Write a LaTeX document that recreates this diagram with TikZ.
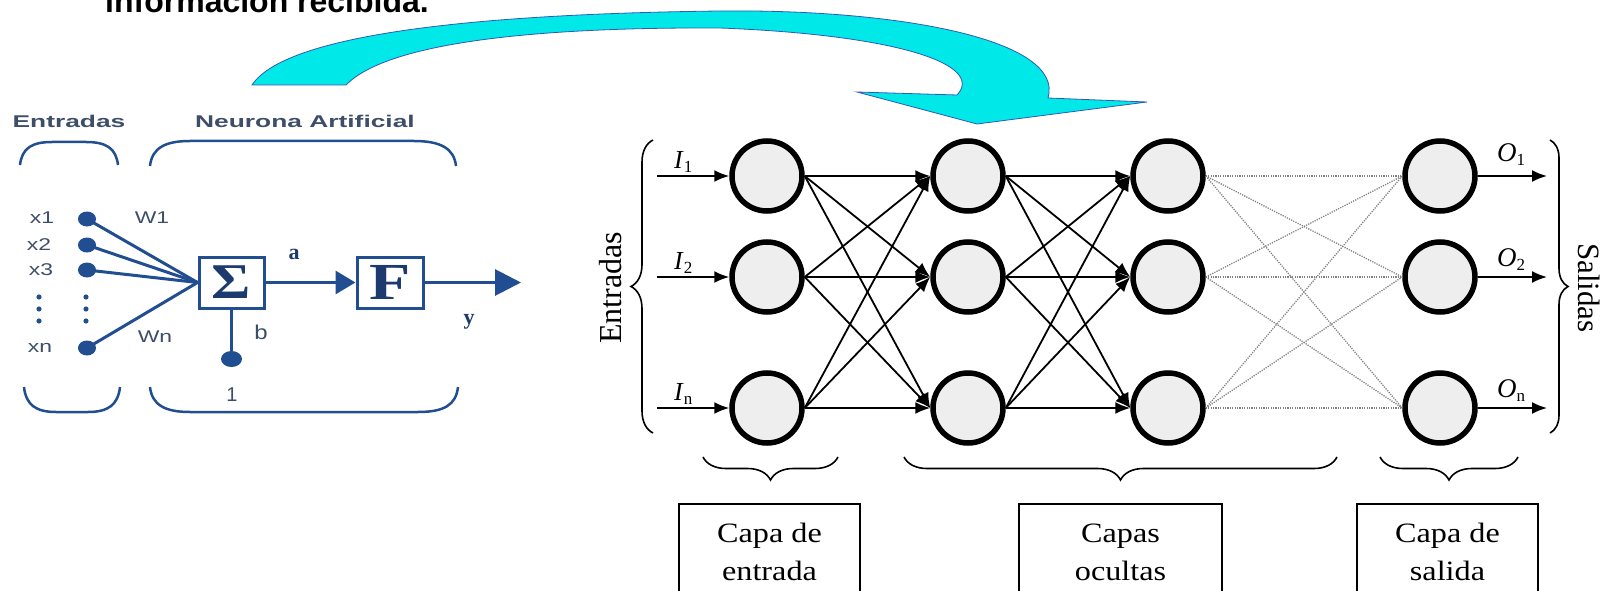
\documentclass[tikz,border=0pt]{standalone}
\usepackage{fontspec}
\usepackage{graphicx}
\setmainfont{Liberation Serif}
\newfontfamily\arialf{Liberation Sans}
\usetikzlibrary{arrows.meta,decorations.pathreplacing,shapes.geometric}
\definecolor{nblue}{RGB}{32,78,145}
\definecolor{ntext}{RGB}{62,78,105}
\definecolor{ndark}{RGB}{28,58,110}
\definecolor{cyanarr}{RGB}{0,232,232}
\definecolor{arrline}{RGB}{50,90,180}
\definecolor{nfill}{RGB}{238,238,238}
\newcommand\fsz[1]{\fontsize{#1pt}{#1pt}\selectfont}
\begin{document}
\begin{tikzpicture}[x=1pt,y=-1pt,
  neuron/.style={circle, draw=black, line width=5.5pt, fill=nfill, minimum size=70pt, inner sep=0pt},
  conn/.style={line width=1.8pt, -{Latex[length=15pt,width=12pt]}},
  dotc/.style={draw=gray, line width=1.3pt, dash pattern=on 1.2pt off 1.2pt},
  brc/.style={decorate, decoration={brace, amplitude=#1}, line width=1.6pt},
  bline/.style={draw=nblue, line width=3pt},
  bdot/.style={ellipse, fill=nblue, minimum width=18pt, minimum height=15pt, inner sep=0pt},
  lbox/.style={draw=nblue, line width=3pt, inner sep=0pt, text=ndark},
  xlab/.style={font=\arialf\fsz{17}, text=ntext, inner sep=0pt},
  head/.style={font=\arialf\bfseries\fsz{17}, text=ntext, inner sep=0pt},
  layerbox/.style={draw=black, line width=1.5pt, anchor=north, minimum height=130pt, inner sep=0pt},
  boxtxt/.style={font=\fsz{28}, anchor=base, inner sep=0pt},
  lab/.style={anchor=base west, inner sep=0pt}
]
\useasboundingbox (0,0) rectangle (1601,591);
\clip (0,0) rectangle (1601,591);

% title (cut at top)
\node[anchor=base west, inner sep=0pt, font=\arialf\bfseries\fsz{32}] (title) at (105,13) {información recibida.};

% cyan curved arrow
\draw[fill=cyanarr, draw=arrline, line width=0.8pt]
  (252,85) .. controls (285,35) and (470,14) .. (720,11)
  .. controls (900,9) and (1065,40) .. (1048,98)
  -- (1147,102) -- (977,124) -- (857,92) -- (957,95)
  .. controls (985,65) and (900,35) .. (720,28)
  .. controls (520,27) and (385,45) .. (346,85) -- cycle;

% ---------- artificial neuron ----------
\node[head] (hent) at (69,121) {\scalebox{1.55}[1]{Entradas}};
\node[head] (hneu) at (305,121) {\scalebox{1.55}[1]{Neurona Artificial}};
\draw[bline, line width=2.5pt] (20,165) .. controls (22,148) and (32,142) .. (52,142) -- (86,142) .. controls (106,142) and (116,148) .. (118,165);
\draw[bline, line width=2.5pt] (150,166) .. controls (152,148) and (165,141) .. (190,141) -- (414,141) .. controls (440,141) and (454,148) .. (456,166);
\draw[bline, line width=2.5pt] (24,387) .. controls (26,405) and (36,412) .. (56,412) -- (88,412) .. controls (108,412) and (118,405) .. (120,387);
\draw[bline, line width=2.5pt] (150,387) .. controls (152,405) and (165,412) .. (190,412) -- (418,412) .. controls (444,412) and (456,405) .. (458,387);

\node[xlab] (lx1) at (42,218) {\scalebox{1.35}[1]{x1}};
\node[xlab] (lx2) at (39,245) {\scalebox{1.35}[1]{x2}};
\node[xlab] (lx3) at (41,270) {\scalebox{1.35}[1]{x3}};
\node[xlab] (lxn) at (40,348) {\scalebox{1.35}[1]{xn}};
\foreach \yy in {297,309,321} {
  \fill[nblue] (39,\yy) circle[radius=2.6pt];
  \fill[nblue] (86,\yy) circle[radius=2.6pt];
}
\node[bdot] (dx1) at (87,219) {};
\node[bdot] (dx2) at (87,245) {};
\node[bdot] (dx3) at (87,270) {};
\node[bdot] (dxn) at (87,348) {};

\node[lbox, minimum width=65pt, minimum height=51pt] (sig) at (231.5,282.5) {\scalebox{1.2}[1]{\fsz{50}\bfseries Σ}};
\node[lbox, minimum width=66pt, minimum height=51pt] (fbox) at (390,282.5) {\raisebox{-2pt}{\scalebox{1.3}[1]{\fsz{52}\bfseries F}}};
\foreach \d in {dx1,dx2,dx3,dxn} \draw[bline] (\d.center) -- (sig.west);
\node[xlab] (lw1) at (152,218) {\scalebox{1.35}[1]{W1}};
\node[xlab] (lwn) at (155,337) {\scalebox{1.35}[1]{Wn}};
\draw[bline, -{Triangle[length=20pt,width=23pt]}] (sig.east) -- (fbox.west);
\coordinate (yout) at (521,282.5);
\draw[bline, -{Triangle[length=26pt,width=26pt]}] (fbox.east) -- (yout);
\node[bdot, minimum width=21pt, minimum height=16pt] (bdt) at (231.5,359) {};
\draw[bline] (sig.south) -- (bdt.center);
\node[inner sep=0pt, text=ndark, font=\bfseries\fsz{22}] (la) at (294,254) {a};
\node[inner sep=0pt, text=ndark, font=\bfseries\fsz{22}] (ly) at (469,322) {y};
\node[xlab, font=\arialf\fsz{20}] (lb) at (261,332) {\scalebox{1.2}[1]{b}};
\node[xlab, font=\arialf\fsz{20}] (l1) at (232,395) {1};

% ---------- network ----------
\foreach \c/\x in {1/767,2/968,3/1168,4/1440}
  \foreach \r/\y in {1/176,2/277,3/408}
    \node[neuron] (n\c\r) at (\x,\y) {};

\foreach \i in {1,2,3} \foreach \j in {1,2,3} {
  \draw[conn] (n1\i.east) -- (n2\j.west);
  \draw[conn] (n2\i.east) -- (n3\j.west);
  \draw[dotc] (n3\i.east) -- (n4\j.west);
}

\coordinate (in1) at (657,176);
\coordinate (in2) at (657,277);
\coordinate (in3) at (657,408);
\draw[conn] (in1) -- (n11.west);
\draw[conn] (in2) -- (n12.west);
\draw[conn] (in3) -- (n13.west);
\coordinate (out1) at (1547,176);
\coordinate (out2) at (1547,277);
\coordinate (out3) at (1547,408);
\draw[conn] (n41.east) -- (out1);
\draw[conn] (n42.east) -- (out2);
\draw[conn] (n43.east) -- (out3);

\node[lab] (li1) at (674,168) {\fsz{26}\itshape I\/\raisebox{-4pt}{\upshape\fsz{17}1}};
\node[lab] (li2) at (674,269) {\fsz{26}\itshape I\/\raisebox{-4pt}{\upshape\fsz{17}2}};
\node[lab] (li3) at (674,400) {\fsz{26}\itshape I\/\raisebox{-4pt}{\upshape\fsz{17}n}};
\node[lab] (lo1) at (1497,161) {\fsz{27}\itshape O\/\raisebox{-4pt}{\upshape\fsz{17}1}};
\node[lab] (lo2) at (1497,266) {\fsz{27}\itshape O\/\raisebox{-4pt}{\upshape\fsz{17}2}};
\node[lab] (lo3) at (1497,397) {\fsz{27}\itshape O\/\raisebox{-4pt}{\upshape\fsz{17}n}};

\draw[brc=22pt] (653,433) -- (653,140);
\draw[brc=18pt] (1550,140) -- (1550,433);
\node[rotate=90, font=\fsz{32}, inner sep=0pt] (tent) at (611,288) {Entradas};
\node[rotate=-90, font=\fsz{31}, inner sep=0pt] (tsal) at (1589,288) {Salidas};

% layer braces and boxes
\draw[brc=23pt] (838,457) -- (703,457);
\draw[brc=23pt] (1337,457) -- (904,457);
\draw[brc=23pt] (1518,457) -- (1380,457);

\node[layerbox, minimum width=181pt] (bx1) at (769.5,503) {};
\node[layerbox, minimum width=203pt] (bx2) at (1120.5,503) {};
\node[layerbox, minimum width=181pt] (bx3) at (1447.5,503) {};
\node[boxtxt] (t1a) at (769.5,542) {\scalebox{1.15}[1]{Capa de}};
\node[boxtxt] (t1b) at (769.5,580) {\scalebox{1.15}[1]{entrada}};
\node[boxtxt] (t2a) at (1120.5,542) {\scalebox{1.15}[1]{Capas}};
\node[boxtxt] (t2b) at (1120.5,580) {\scalebox{1.15}[1]{ocultas}};
\node[boxtxt] (t3a) at (1447.5,542) {\scalebox{1.15}[1]{Capa de}};
\node[boxtxt] (t3b) at (1447.5,580) {\scalebox{1.15}[1]{salida}};
\end{tikzpicture}
\end{document}
